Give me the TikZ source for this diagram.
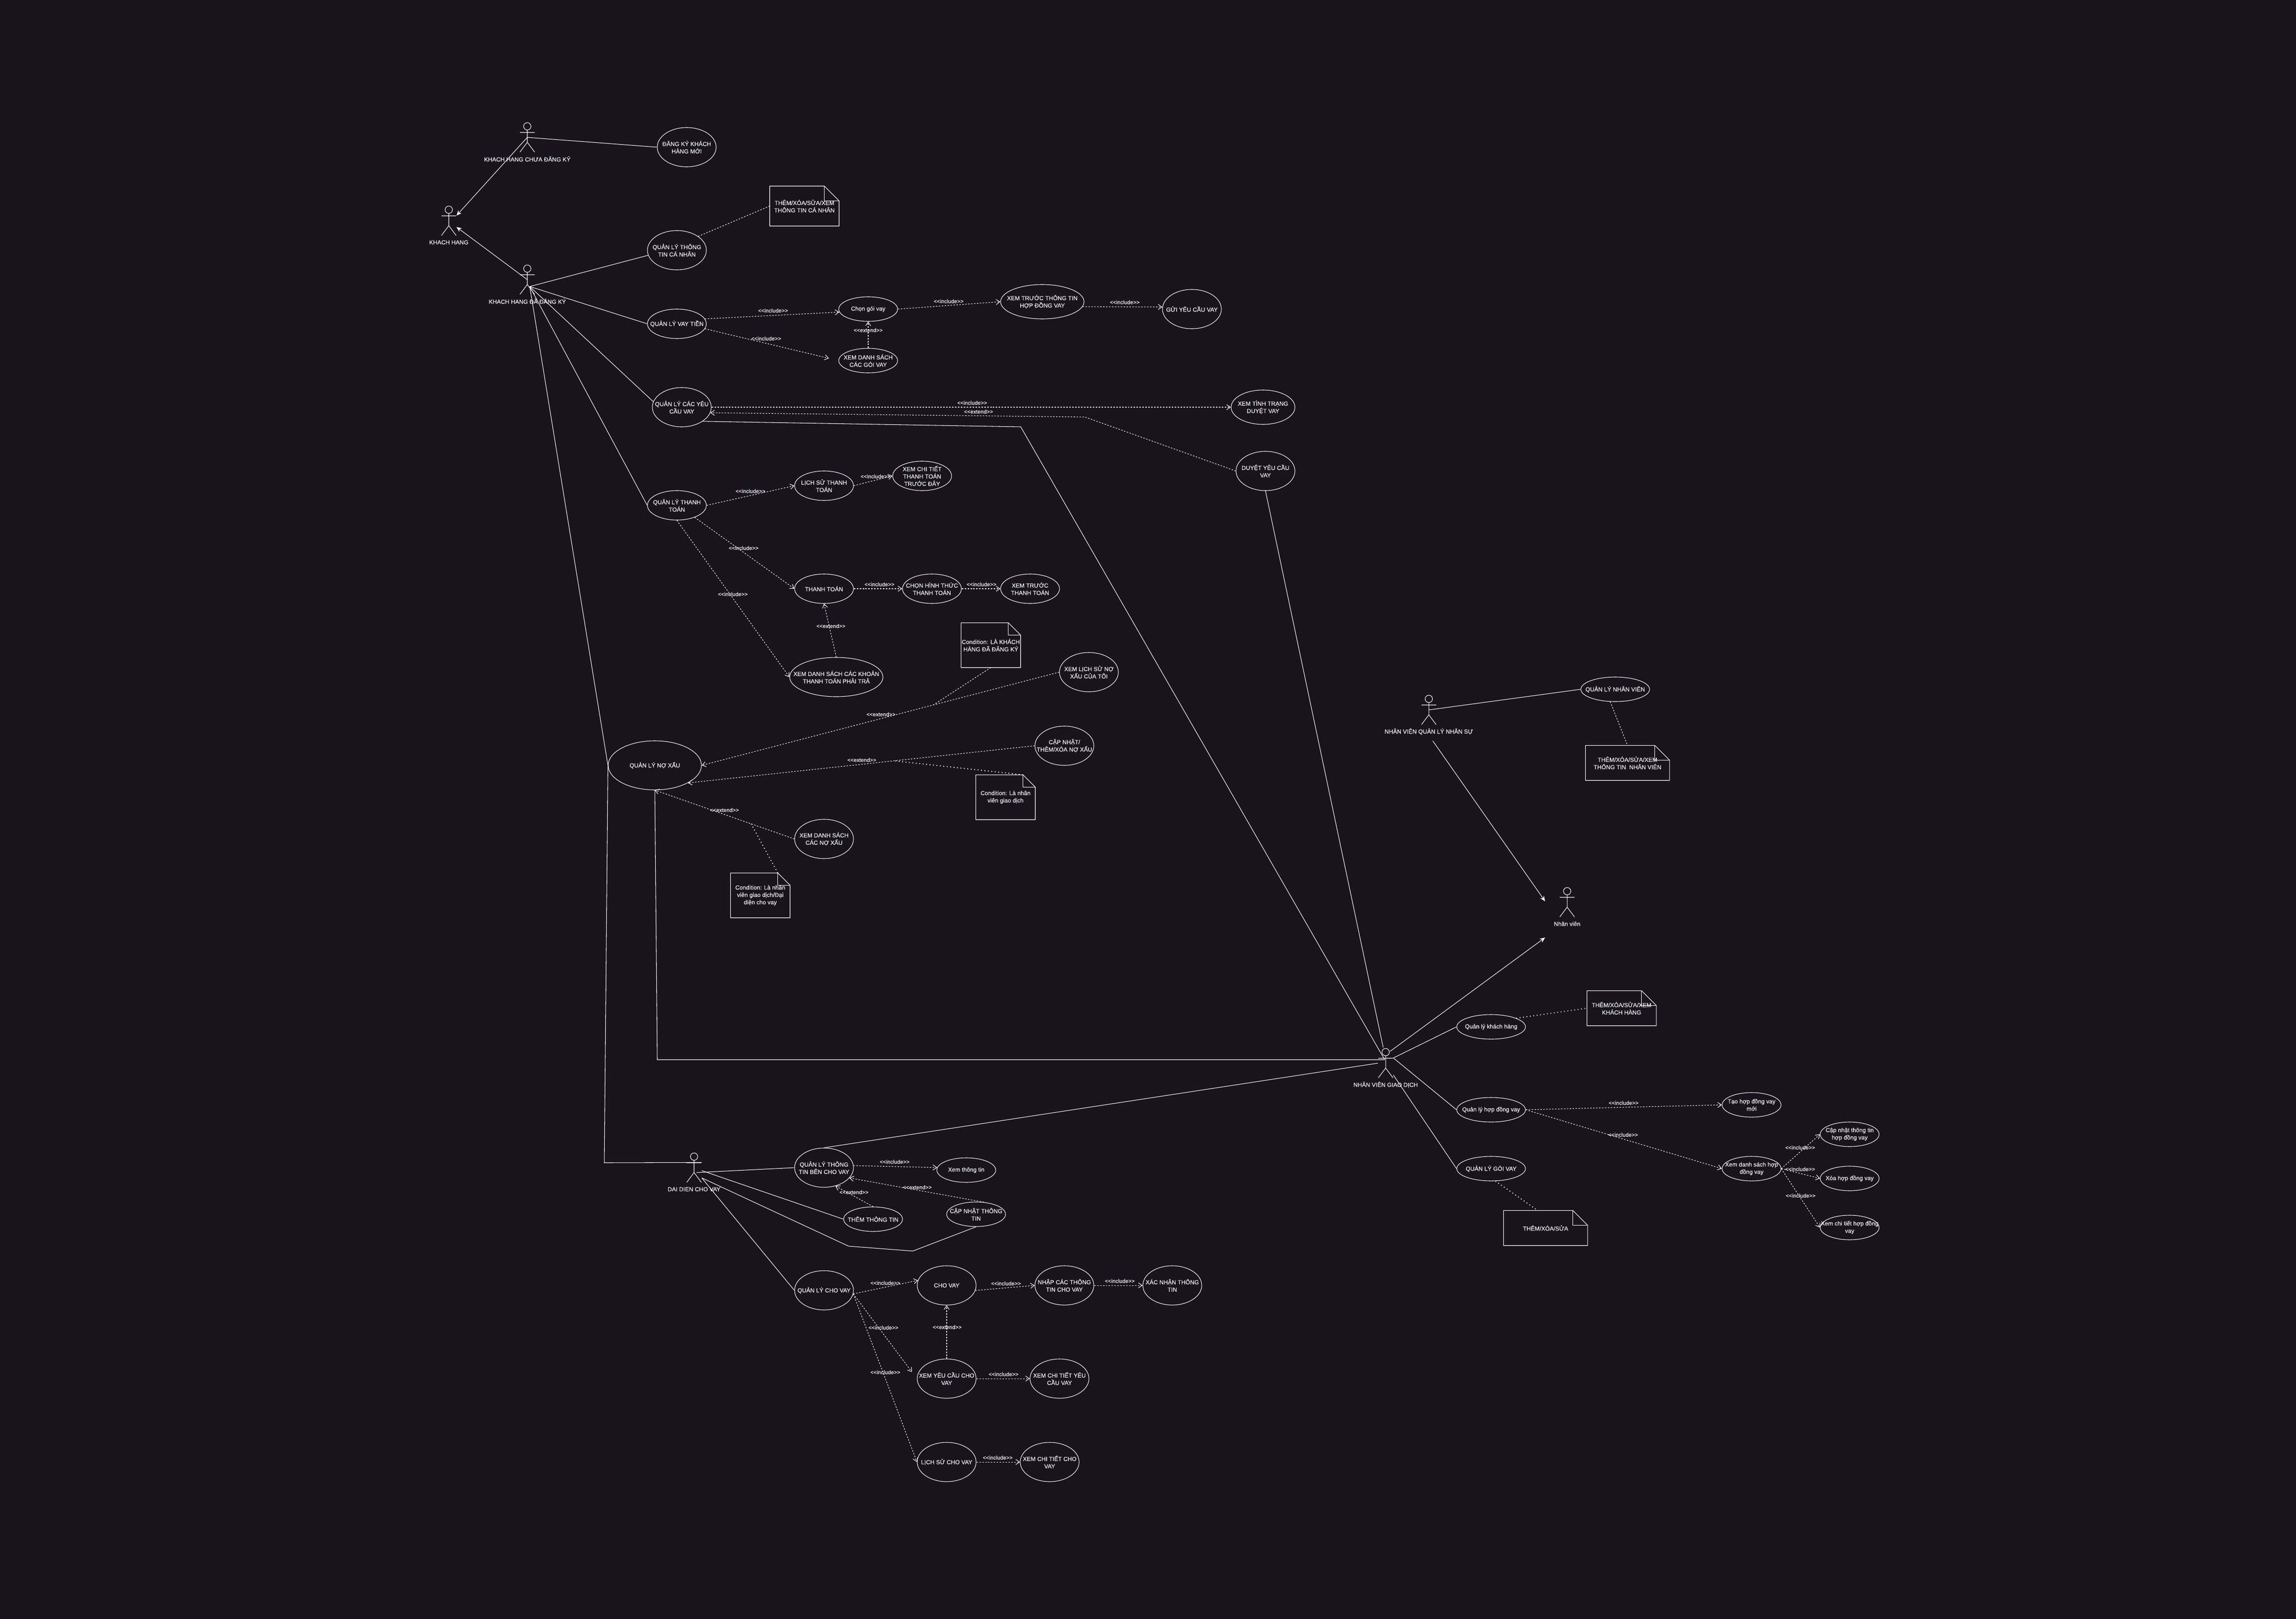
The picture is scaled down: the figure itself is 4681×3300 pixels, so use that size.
\documentclass[tikz,border=0pt]{standalone}
\usepackage{fontspec}
\setmainfont{Liberation Sans}[FakeBold=.25]
\usetikzlibrary{shapes.geometric,arrows.meta}
\definecolor{nen}{HTML}{18141D}
\definecolor{net}{HTML}{FFFFFF}
\definecolor{chu}{HTML}{F0F0F0}
\newcommand{\incl}{<{}<include>{}>}
\newcommand{\extd}{<{}<extend>{}>}
\tikzset{
  uc/.style={ellipse,draw=net,line width=.3pt,text=chu,align=center,inner sep=-3cm,
    minimum width=1.2cm,minimum height=.8cm,font=\fontsize{3.41}{4.27}\selectfont},
  txt/.style={text=chu,align=center,inner sep=0pt,font=\fontsize{3.41}{4.27}\selectfont},
  rel/.style={text=chu,inner sep=0pt,font=\fontsize{3.13}{3.9}\selectfont},
  solidline/.style={draw=net,line width=.3pt},
  dep/.style={draw=net,line width=.3pt,dash pattern=on .85pt off .85pt,
    -{Straight Barb[length=2.2pt,width=3pt]}},
  noteline/.style={draw=net,line width=.3pt,dash pattern=on .85pt off .85pt},
  condline/.style={draw=net,line width=.5pt,dash pattern=on .5pt off 1.5pt},
  isa/.style={draw=net,line width=.3pt,-{Stealth[length=3pt,width=2.6pt]}}
}
% stick figure with its caption
\newcommand{\actorman}[4]{
  \node[minimum width=.3cm,minimum height=.6cm,inner sep=0pt] (#1) at (#2,#3) {};
  \begin{scope}[shift={(#2,#3)}]
    \draw[solidline] (0,-22.5) ellipse [x radius=7.5,y radius=7.5];
    \draw[solidline] (0,-15) -- (0,10) (-15,-10) -- (15,-10) (-15,30) -- (0,10) -- (15,30);
  \end{scope}
  \node[txt] (#1T) at (#2,#3+44) {#4};
}
% name, centre x, centre y, width, height, fold, text
\newcommand{\notebox}[7]{
  \node[txt,minimum width=#4,minimum height=#5] (#1) at (#2,#3) {#7};
  \draw[solidline] (#1.north west) -- ([xshift=-#6]#1.north east)
    -- ([yshift=-#6]#1.north east) -- (#1.south east) -- (#1.south west) -- cycle;
  \draw[solidline] ([xshift=-#6]#1.north east) |- ([yshift=-#6]#1.north east);
}
\begin{document}
\begin{tikzpicture}[x=.01cm,y=-.01cm]
  \useasboundingbox (0,0) rectangle (4681,3300);
  \fill[nen] (0,0) rectangle (4681,3300);

  % Actors
  \actorman{khChua}{1075}{280}{KHACH HANG CHƯA ĐĂNG KÝ}
  \actorman{khachHang}{915}{450}{KHACH HANG}
  \actorman{khDaDK}{1075}{570}{KHACH HANG ĐÃ ĐĂNG KÝ}
  \actorman{daiDien}{1415}{2380}{DAI DIEN CHO VAY}
  \actorman{nvQLNS}{2913}{1447}{NHÂN VIÊN QUẢN LÝ NHÂN SỰ}
  \actorman{nhanVien}{3195}{1839}{Nhân viên}
  \actorman{nvgd}{2825}{2167}{NHÂN VIÊN GIAO DỊCH}
  \coordinate (khHub) at (1080,584);
  \coordinate (ddHub) at (1420,2390);
  \coordinate (nvgdGiua) at (2823,2160);
  \coordinate (nvgdTren) at (2820,2135);
  \coordinate (nvgdDau) at (2834,2143);
  \coordinate (nvRa) at (2921,1510);
  \coordinate (nvVaoA) at (3150,1837);
  \coordinate (nvVaoB) at (3150,1911);

  % Customer use cases
  \node[uc] (dkMoi) at (1400,300) {ĐĂNG KÝ KHÁCH\\HÀNG MỚI};
  \node[uc] (qlCaNhan) at (1380,510) {QUẢN LÝ THÔNG\\TIN CÁ NHÂN};
  \node[uc,minimum height=.6cm] (qlVayTien) at (1380,660) {QUẢN LÝ VAY TIỀN};
  \node[uc,minimum height=.5cm] (chonGoi) at (1770,630) {Chọn gói vay};
  \node[uc,minimum height=.5cm] (dsGoi) at (1770,735) {XEM DANH SÁCH\\CÁC GÓI VAY};
  \node[uc,minimum width=1.7cm,minimum height=.7cm] (xemHopDong) at (2125,615) {XEM TRƯỚC THÔNG TIN\\HỢP ĐỒNG VAY};
  \node[uc] (guiYeuCau) at (2430,630) {GỬI YÊU CẦU VAY};
  \node[uc] (qlYeuCau) at (1390,830) {QUẢN LÝ CÁC YÊU\\CẦU VAY};
  \node[uc,minimum width=1.3cm,minimum height=.7cm] (xemTinhTrang) at (2575,830) {XEM TÌNH TRẠNG\\DUYỆT VAY};
  \node[uc] (duyetYeuCau) at (2580,960) {DUYỆT YÊU CẦU\\VAY};
  \node[uc,minimum height=.6cm] (qlThanhToan) at (1380,1030) {QUẢN LÝ THANH\\TOÁN};
  \node[uc,minimum height=.6cm] (lsThanhToan) at (1680,990) {LỊCH SỬ THANH\\TOÁN};
  \node[uc,minimum height=.6cm] (ctThanhToan) at (1880,970) {XEM CHI TIẾT\\THANH TOÁN\\TRƯỚC ĐÂY};
  \node[uc,minimum height=.6cm] (thanhToan) at (1680,1200) {THANH TOÁN};
  \node[uc,minimum height=.6cm] (chonHinhThuc) at (1900,1200) {CHỌN HÌNH THỨC\\THANH TOÁN};
  \node[uc,minimum height=.6cm] (xemTruocTT) at (2100,1200) {XEM TRƯỚC\\THANH TOÁN};
  \node[uc,minimum width=1.9cm] (dsKhoan) at (1705,1380) {XEM DANH SÁCH CÁC KHOẢN\\THANH TOÁN PHẢI TRẢ};
  \node[uc] (lsNoXau) at (2220,1370) {XEM LỊCH SỬ NỢ\\XẤU CỦA TÔI};
  \node[uc] (capNhatNo) at (2170,1520) {CẬP NHẬT/\\THÊM/XÓA NỢ XẤU};
  \node[uc] (dsNoXau) at (1680,1710) {XEM DANH SÁCH\\CÁC NỢ XẤU};
  \node[uc,minimum width=1.9cm,minimum height=1cm] (qlNoXau) at (1335,1560) {QUẢN LÝ NỢ XẤU};

  % Lender use cases
  \node[uc] (qlBenVay) at (1680,2380) {QUẢN LÝ THÔNG\\TIN BÊN CHO VAY};
  \node[uc,minimum height=.5cm] (xemTT) at (1970,2385) {Xem thông tin};
  \node[uc,minimum height=.5cm] (themTT) at (1780,2485) {THÊM THÔNG TIN};
  \node[uc,minimum height=.5cm] (capNhatTT) at (1990,2475) {CẬP NHẬT THÔNG\\TIN};
  \node[uc] (qlChoVay) at (1680,2630) {QUẢN LÝ CHO VAY};
  \node[uc] (choVay) at (1930,2620) {CHO VAY};
  \node[uc] (nhapTT) at (2170,2620) {NHẬP CÁC THÔNG\\TIN CHO VAY};
  \node[uc] (xacNhan) at (2390,2620) {XÁC NHẬN THÔNG\\TIN};
  \node[uc] (xemYC) at (1930,2810) {XEM YÊU CẦU CHO\\VAY};
  \node[uc] (ctYC) at (2160,2810) {XEM CHI TIẾT YÊU\\CẦU VAY};
  \node[uc] (lsChoVay) at (1930,2980) {LỊCH SỬ CHO VAY};
  \node[uc] (ctChoVay) at (2140,2980) {XEM CHI TIẾT CHO\\VAY};

  % Staff use cases
  \node[uc,minimum width=1.4cm,minimum height=.5cm] (qlNhanVien) at (3293,1405) {QUẢN LÝ NHÂN VIÊN};
  \node[uc,minimum width=1.4cm,minimum height=.5cm] (qlKhach) at (3040,2093) {Quản lý khách hàng};
  \node[uc,minimum width=1.4cm,minimum height=.5cm] (qlHopDong) at (3040,2262) {Quản lý hợp đồng vay};
  \node[uc,minimum width=1.4cm,minimum height=.5cm] (qlGoi) at (3040,2382) {QUẢN LÝ GÓI VAY};
  \node[uc,minimum height=.5cm] (taoHD) at (3571,2252) {Tạo hợp đồng vay\\mới};
  \node[uc,minimum height=.5cm] (dsHD) at (3571,2382) {Xem danh sách hợp\\đồng vay};
  \node[uc,minimum height=.5cm] (capNhatHD) at (3771,2312) {Cập nhật thông tin\\hợp đồng vay};
  \node[uc,minimum height=.5cm] (xoaHD) at (3771,2402) {Xóa hợp đồng vay};
  \node[uc,minimum height=.5cm] (ctHD) at (3771,2502) {Xem chi tiết hợp đồng\\vay};

  % Notes
  \notebox{noteCaNhan}{1640}{420}{1.4cm}{.8cm}{.3cm}{THÊM/XÓA/SỬA/XEM\\THÔNG TIN CÁ NHÂN}
  \notebox{noteKhach}{2020}{1315}{1.2cm}{.9cm}{.25cm}{Condition: LÀ KHÁCH\\HÀNG ĐÃ ĐĂNG KÝ}
  \notebox{noteGiaoDich}{2050}{1625}{1.2cm}{.9cm}{.25cm}{Condition: Là nhân\\viên giao dịch}
  \notebox{noteDaiDien}{1550}{1825}{1.2cm}{.9cm}{.25cm}{Condition: Là nhân\\viên giao dịch/Đại\\diện cho vay}
  \notebox{noteNhanVien}{3318}{1555}{1.7cm}{.7cm}{.3cm}{THÊM/XÓA/SỬA/XEM\\THÔNG TIN~ NHÂN VIÊN}
  \notebox{noteKhachHang}{3306}{2055}{1.4cm}{.7cm}{.3cm}{THÊM/XÓA/SỬA/XEM\\KHÁCH HÀNG}
  \notebox{noteGoi}{3151}{2503}{1.7cm}{.7cm}{.3cm}{THÊM/XÓA/SỬA}

  % Generalisation
  \draw[isa] (khChua.center) -- (khachHang.34);
  \draw[isa] (khDaDK.center) -- (khachHang.-39);
  \draw[isa] (nvRa) -- (nvVaoA);
  \draw[isa] (nvgdDau) -- (nvVaoB);

  % Actor associations
  \draw[solidline] (khChua.center) -- (dkMoi.west);
  \draw[solidline] (khHub) -- (qlCaNhan.190);
  \draw[solidline] (khHub) -- (qlVayTien.west);
  \draw[solidline] (khHub) -- (qlYeuCau.169);
  \draw[solidline] (khHub) -- (qlThanhToan.west);
  \draw[solidline] (khHub) -- (qlNoXau.west);
  \draw[solidline] (qlNoXau.west) -- (1232,2370) -- (daiDien.34);
  \draw[solidline] (qlNoXau.south) -- (1340,2160) -- (nvgdGiua);
  \draw[solidline] (qlYeuCau.-34) -- (2081,870) -- (nvgdGiua);
  \draw[solidline] (duyetYeuCau.south) -- (nvgdTren);
  \draw[solidline] (ddHub) -- (qlBenVay.west);
  \draw[solidline] (daiDien.-21) -- (themTT.west);
  \draw[solidline] (daiDien.-53) -- (1730,2540) -- (1861,2550) -- (capNhatTT.south);
  \draw[solidline] (daiDien.-53) -- (qlChoVay.west);
  \draw[solidline] (qlBenVay.north) -- (nvgd.west);
  \draw[solidline] (nvQLNS.center) -- (qlNhanVien.west);
  \draw[solidline] (nvgd.34) -- (qlKhach.west);
  \draw[solidline] (nvgd.34) -- (qlHopDong.west);
  \draw[solidline] (nvgd.-57) -- (qlGoi.west);

  % Note links
  \draw[noteline] (qlCaNhan.33) -- (noteCaNhan.west);
  \draw[noteline] (qlNhanVien.-112) -- (noteNhanVien.north);
  \draw[condline] (qlKhach.19) -- (noteKhachHang.west);
  \draw[condline] (qlGoi.-71) -- ([xshift=-.16cm]noteGoi.north);

  % Loan requests
  \draw[dep] (qlVayTien.10) -- (chonGoi.186);
  \draw[dep,shorten >=.2cm] (qlVayTien.-10) -- (dsGoi.west);
  \draw[dep] (chonGoi.east) -- (xemHopDong.west);
  \draw[dep] (xemHopDong.-7) -- (guiYeuCau.176);
  \draw[dep] (dsGoi.north) -- (chonGoi.south);
  \draw[dep] (qlYeuCau.east) -- (xemTinhTrang.west);
  \draw[dep] (duyetYeuCau.west) -- (2212,850) -- (qlYeuCau.-11);
  \node[rel] (incA) at (1576,633) {\incl};
  \node[rel] (incB) at (1562,690) {\incl};
  \node[rel] (incC) at (1934,614) {\incl};
  \node[rel] (incD) at (2293,616) {\incl};
  \node[rel] (extA) at (1770,673) {\extd};
  \node[rel] (incE) at (1982,821) {\incl};
  \node[rel] (extB) at (1995,839) {\extd};

  % Payments
  \draw[dep] (qlThanhToan.east) -- (lsThanhToan.west);
  \draw[dep] (lsThanhToan.east) -- (ctThanhToan.west);
  \draw[dep] (qlThanhToan.-34) -- (thanhToan.west);
  \draw[dep] (qlThanhToan.south) -- (dsKhoan.west);
  \draw[dep] (thanhToan.east) -- (chonHinhThuc.west);
  \draw[dep] (chonHinhThuc.east) -- (xemTruocTT.west);
  \draw[dep] (dsKhoan.north) -- (thanhToan.south);
  \node[rel] (incF) at (1530,1001) {\incl};
  \node[rel] (incG) at (1785,971) {\incl};
  \node[rel] (incH) at (1516,1117) {\incl};
  \node[rel] (incI) at (1494,1211) {\incl};
  \node[rel] (incJ) at (1793,1191) {\incl};
  \node[rel] (incK) at (2001,1191) {\incl};
  \node[rel] (extC) at (1694,1276) {\extd};

  % Bad debts
  \draw[dep] (lsNoXau.west) -- (qlNoXau.east) coordinate[pos=.352] (condLs);
  \draw[dep] (capNhatNo.west) -- (qlNoXau.-28) coordinate[pos=.406] (condCapNhat);
  \draw[dep] (dsNoXau.west) -- (qlNoXau.south) coordinate[pos=.31] (condDs);
  \draw[noteline] (noteKhach.south) -- (condLs);
  \draw[condline] ([xshift=-.25cm]noteGiaoDich.north east) -- (condCapNhat);
  \draw[condline] ([xshift=-.25cm]noteDaiDien.north east) -- (condDs);
  \node[rel] (extD) at (1796,1456) {\extd};
  \node[rel] (extE) at (1757,1549) {\extd};
  \node[rel] (extF) at (1477,1651) {\extd};

  % Lender side
  \draw[dep] (qlBenVay.4) -- (xemTT.175);
  \draw[dep] (capNhatTT.57) -- (qlBenVay.-22);
  \draw[dep] (themTT.north) -- (qlBenVay.-58);
  \draw[dep] (qlChoVay.-7) -- (choVay.170);
  \draw[dep] (choVay.-10) -- (nhapTT.west);
  \draw[dep] (nhapTT.east) -- (xacNhan.west);
  \draw[dep,shorten >=.17cm] (qlChoVay.-7) -- (xemYC.west);
  \draw[dep] (qlChoVay.-7) -- (lsChoVay.west);
  \draw[dep] (xemYC.north) -- (choVay.south);
  \draw[dep] (xemYC.east) -- (ctYC.west);
  \draw[dep] (lsChoVay.east) -- (ctChoVay.west);
  \node[rel] (incL) at (1824,2368) {\incl};
  \node[rel] (extG) at (1870,2420) {\extd};
  \node[rel] (extH) at (1741,2430) {\extd};
  \node[rel] (incM) at (1805,2615) {\incl};
  \node[rel] (incN) at (2051,2616) {\incl};
  \node[rel] (incO) at (2283,2611) {\incl};
  \node[rel] (incP) at (1801,2706) {\incl};
  \node[rel] (incQ) at (1805,2797) {\incl};
  \node[rel] (extI) at (1931,2705) {\extd};
  \node[rel] (incR) at (2046,2801) {\incl};
  \node[rel] (incS) at (2034,2971) {\incl};

  % Contracts
  \draw[dep] (qlHopDong.east) -- (taoHD.west);
  \draw[dep] (qlHopDong.east) -- (dsHD.west);
  \draw[dep] (dsHD.east) -- (capNhatHD.west);
  \draw[dep] (dsHD.east) -- (xoaHD.west);
  \draw[dep] (dsHD.east) -- (ctHD.west);
  \node[rel] (incT) at (3310,2248) {\incl};
  \node[rel] (incU) at (3309,2313) {\incl};
  \node[rel] (incV) at (3670,2339) {\incl};
  \node[rel] (incW) at (3670,2383) {\incl};
  \node[rel] (incX) at (3671,2437) {\incl};
\end{tikzpicture}
\end{document}
